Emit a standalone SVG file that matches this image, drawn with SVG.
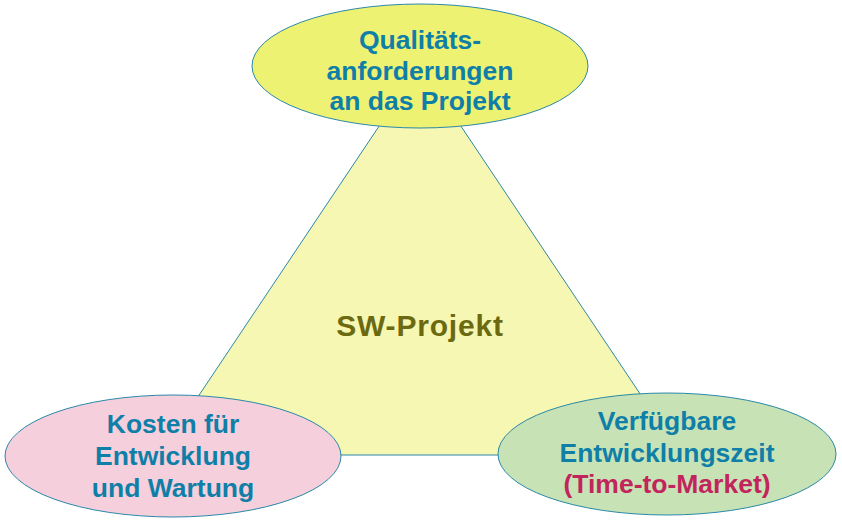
<svg xmlns="http://www.w3.org/2000/svg" width="842" height="521" viewBox="0 0 842 521">
<style>
.t{font-family:"Liberation Sans",Arial,sans-serif;font-weight:bold;font-size:26.5px;text-anchor:middle;fill:#0F7FA8}
.r{fill:#C2255C}
.c{fill:#6B6A10;font-size:30px;letter-spacing:0.8px}
.e{stroke:#2A88A8;stroke-width:1}
</style>
<rect width="842" height="521" fill="#FFFFFF"/>
<g id="connectors">
<polygon points="420,65 159,455 681,455" fill="#F6F7B2" stroke="#2A88A8" stroke-width="1"/>
</g>
<g id="center">
<text class="t c" x="420" y="336">SW-Projekt</text>
</g>
<g id="quality">
<ellipse class="e" cx="420" cy="66" rx="168" ry="62" fill="#EEF273"/>
<text class="t" x="420" y="49">Qualitäts-</text>
<text class="t" x="420" y="80">anforderungen</text>
<text class="t" x="420" y="110">an das Projekt</text>
</g>
<g id="cost">
<ellipse class="e" cx="173" cy="456" rx="168" ry="61" fill="#F5CFDC"/>
<text class="t" x="173" y="433">Kosten für</text>
<text class="t" x="173" y="465">Entwicklung</text>
<text class="t" x="173" y="497">und Wartung</text>
</g>
<g id="time">
<ellipse class="e" cx="667" cy="454" rx="169" ry="61" fill="#C7E3B5"/>
<text class="t" x="667" y="430">Verfügbare</text>
<text class="t" x="667" y="462">Entwicklungszeit</text>
<text class="t r" x="667" y="493">(Time-to-Market)</text>
</g>
</svg>
